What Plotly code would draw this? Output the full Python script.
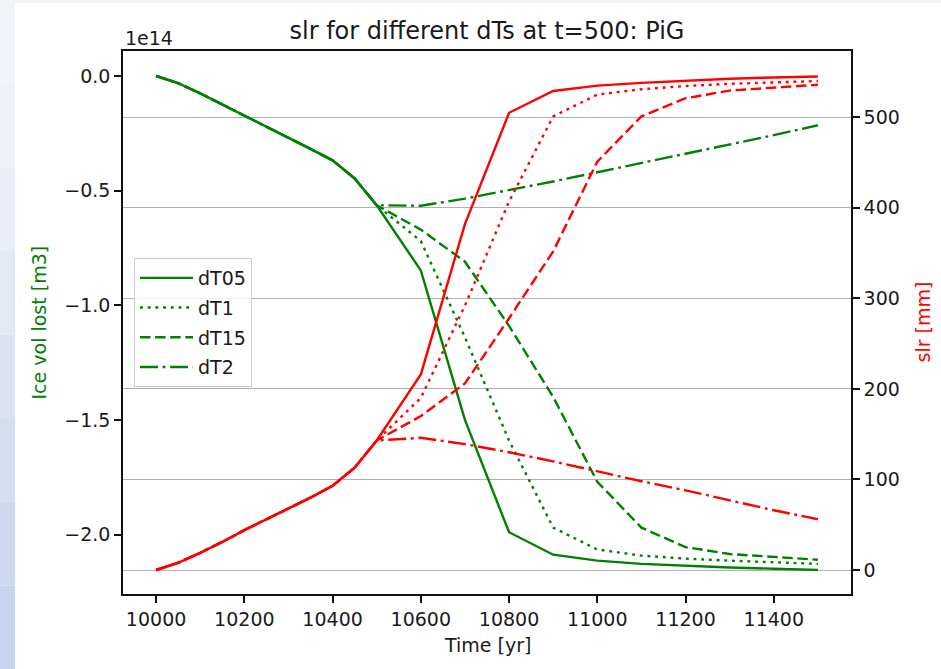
import plotly.graph_objects as go

# ---------------- data ----------------
# common spin-up period (identical for every dT run)
T_SPINUP = [10000, 10050, 10100, 10150, 10200, 10250, 10300, 10350, 10400, 10450, 10500]
VOL_SPINUP = [0.0, -0.031, -0.076, -0.124, -0.173, -0.221, -0.269, -0.318, -0.368, -0.447, -0.564]  # x1e14 m3
SLR_SPINUP = [0, 8, 19, 31, 44, 56, 68, 80, 93, 113, 143]  # mm

# after the forcing switch
T_AFTER = [10600, 10700, 10800, 10900, 11000, 11100, 11200, 11300, 11400, 11500]

VOL_DT05 = [-0.848, -1.50, -1.99, -2.088, -2.114, -2.128, -2.137, -2.144, -2.149, -2.154]
VOL_DT1 = [-0.72, -1.14, -1.59, -1.97, -2.065, -2.092, -2.105, -2.114, -2.121, -2.128]
VOL_DT15 = [-0.67, -0.81, -1.09, -1.40, -1.77, -1.97, -2.055, -2.085, -2.098, -2.11]
VOL_DT2 = [-0.566, -0.535, -0.498, -0.46, -0.42, -0.38, -0.34, -0.30, -0.258, -0.215]

SLR_DT05 = [216, 382, 505, 529, 535, 538, 540.5, 542.5, 544, 545]
SLR_DT1 = [190, 292, 407, 501, 525, 531, 534.5, 537, 538.5, 540]
SLR_DT15 = [170, 206, 278, 352, 451, 501, 521, 529.5, 533, 536]
SLR_DT2 = [146, 139, 130, 120, 109, 98, 88, 77, 66, 56]

LABELS = ["dT05", "dT1", "dT15", "dT2"]
LEFT_TICKS = [0.0, -0.5, -1.0, -1.5, -2.0]
LEFT_TICKTEXT = ["0.0", "\u22120.5", "\u22121.0", "\u22121.5", "\u22122.0"]
RIGHT_TICKS = [0, 100, 200, 300, 400, 500]
X_TICKS = [10000, 10200, 10400, 10600, 10800, 11000, 11200, 11400]

# ---------------- styling ----------------
FONT = "DejaVu Sans"
GREEN = "#008000"
RED = "#ff0000"
DASHES = ["solid", "2.9px,4.8px", "10.5px,4.6px", "18px,4.6px,2.9px,4.6px"]
LW = 2.4

times = T_SPINUP + T_AFTER
vols = [VOL_DT05, VOL_DT1, VOL_DT15, VOL_DT2]
slrs = [SLR_DT05, SLR_DT1, SLR_DT15, SLR_DT2]

fig = go.Figure()
for i, lab in enumerate(LABELS):
    fig.add_trace(go.Scatter(
        x=times, y=VOL_SPINUP + vols[i], mode="lines", name=lab,
        line=dict(color=GREEN, width=LW, dash=DASHES[i]),
        legendgroup=lab, yaxis="y"))
for i, lab in enumerate(LABELS):
    fig.add_trace(go.Scatter(
        x=times, y=SLR_SPINUP + slrs[i], mode="lines", name=lab + " slr",
        line=dict(color=RED, width=LW, dash=DASHES[i]),
        showlegend=False, yaxis="y2"))

W, H = 941, 669
ML, MR, MT, MB = 123, 90, 51, 75
PW = W - ML - MR
PH = H - MT - MB


def px2paper_x(px):
    return (px - ML) / PW


def px2paper_y(py):
    return (H - MB - py) / PH


axis_common = dict(
    showline=True, linecolor="#111111", linewidth=1.5,
    ticks="outside", ticklen=7, tickwidth=1.5, tickcolor="#111111",
    tickfont=dict(family=FONT, size=19, color="#1a1a1a"),
    zeroline=False,
)

# background decoration (page strip on the left and top)
shapes = []
strip_cols = ["#f1f4f9", "#eef2f8", "#e9eef6", "#e2e9f2", "#dbe3ee", "#d3def0", "#ccdaef", "#c6d6ee"]
n = len(strip_cols)
for k, c in enumerate(strip_cols):
    y0 = k * H / n
    y1 = (k + 1) * H / n
    shapes.append(dict(type="rect", xref="paper", yref="paper",
                       x0=px2paper_x(0), x1=px2paper_x(15),
                       y0=px2paper_y(y1), y1=px2paper_y(y0),
                       fillcolor=c, line=dict(width=0), layer="below"))
shapes.append(dict(type="rect", xref="paper", yref="paper",
                   x0=px2paper_x(0), x1=px2paper_x(W),
                   y0=px2paper_y(3), y1=px2paper_y(0),
                   fillcolor="#f2f4f8", line=dict(width=0), layer="below"))

fig.update_layout(
    width=W, height=H,
    margin=dict(l=ML, r=MR, t=MT, b=MB, pad=0),
    paper_bgcolor="white", plot_bgcolor="white",
    font=dict(family=FONT, size=19, color="#1a1a1a"),
    title=dict(text="slr for different dTs at t=500: PiG", x=0.5175, xanchor="center",
               y=1 - 31 / H, yanchor="middle", yref="container",
               font=dict(family=FONT, size=24, color="#1a1a1a")),
    xaxis=dict(range=[9925, 11575], tickvals=X_TICKS, tickformat="d", showgrid=False,
               mirror=True, **axis_common),
    yaxis=dict(range=[-2.2594, 0.109], tickvals=LEFT_TICKS, ticktext=LEFT_TICKTEXT,
               showgrid=False, mirror=True, **axis_common),
    yaxis2=dict(range=[-26.5, 573.2], tickvals=RIGHT_TICKS, overlaying="y", side="right",
                showgrid=True, gridcolor="#b0b0b0", gridwidth=1.2, **axis_common),
    legend=dict(x=px2paper_x(134), y=px2paper_y(258), xanchor="left", yanchor="top",
                bgcolor="rgba(255,255,255,0.8)", bordercolor="#cccccc", borderwidth=1,
                font=dict(family=FONT, size=19, color="#1a1a1a"),
                tracegroupgap=2, itemwidth=53),
    showlegend=True,
    shapes=shapes,
    annotations=[
        dict(text="1e14", xref="paper", yref="paper", x=0, y=px2paper_y(38),
             xanchor="left", yanchor="middle", showarrow=False,
             font=dict(family=FONT, size=19, color="#1a1a1a")),
        dict(text="Ice vol lost [m3]", xref="paper", yref="paper", x=px2paper_x(38),
             y=0.5, textangle=-90, xanchor="center", yanchor="middle", showarrow=False,
             font=dict(family=FONT, size=19, color=GREEN)),
        dict(text="slr [mm]", xref="paper", yref="paper", x=px2paper_x(922),
             y=0.5, textangle=-90, xanchor="center", yanchor="middle", showarrow=False,
             font=dict(family=FONT, size=19, color=RED)),
        dict(text="Time [yr]", xref="paper", yref="paper", x=0.5,
             y=px2paper_y(645), xanchor="center", yanchor="middle", showarrow=False,
             font=dict(family=FONT, size=19, color="#1a1a1a")),
    ],
)

fig.write_html("out.html")
